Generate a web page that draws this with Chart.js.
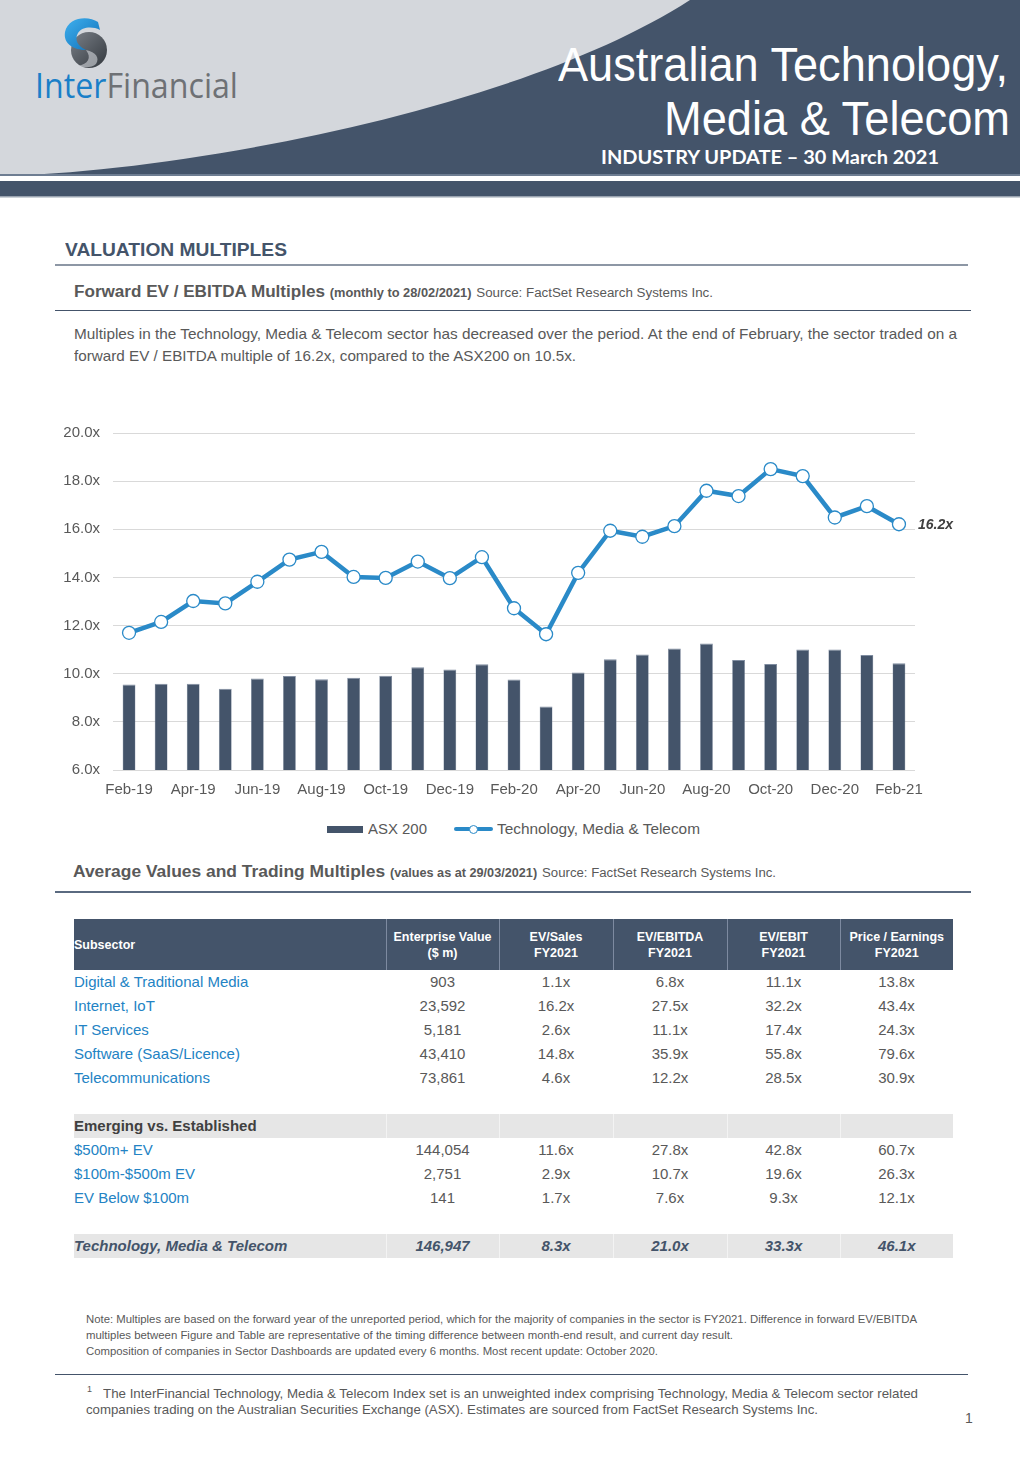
<!DOCTYPE html>
<html><head><meta charset="utf-8">
<script src="https://cdn.jsdelivr.net/npm/chart.js@4.4.1/dist/chart.umd.min.js"></script>
<style>
html,body{margin:0;padding:0}
body{width:1020px;height:1473px;position:relative;background:#fff;font-family:"Liberation Sans",Arial,sans-serif;overflow:hidden;color:#595959}
.a{position:absolute;white-space:nowrap;line-height:1}
.fit{transform-origin:0 50%;display:inline-block}
.hl{position:absolute;height:1px;background:#44546a}
table{position:absolute;left:74px;top:919px;width:879px;border-collapse:collapse;table-layout:fixed;font-size:15px}
td{padding:0;text-align:center;color:#595959;white-space:nowrap;height:24px;line-height:24px}
td.n{text-align:left;color:#2383c4}
tr.hd td{background:#44546a;color:#fff;font-weight:bold;font-size:12.5px;line-height:16px;height:51px;border-left:1px solid #7d8aa0}
tr.hd td:first-child{text-align:left;border-left:none}
tr.g td{background:#e6e6e6;border-left:1px solid #f3f3f3}
tr.g td:first-child{border-left:none}
tr.g td.s{text-align:left;font-weight:bold;color:#404040}
tr.t td{font-weight:bold;font-style:italic;color:#44546a}
</style></head>
<body>
<svg class="a" style="left:0;top:0" width="1020" height="200">
  <rect x="0" y="0" width="1020" height="176" fill="#d4d7dc"/>
  <path d="M0,176 C 180,172 520,110 690,0 L1020,0 L1020,176 Z" fill="#44546a"/>
  <rect x="0" y="174" width="1020" height="2" fill="#6e7d92"/>
  <rect x="0" y="181" width="1020" height="15" fill="#44546a"/>
  <rect x="0" y="196" width="1020" height="1.5" fill="#9aa3b0"/>
  <defs>
    <linearGradient id="gb" x1="0" y1="0" x2="1" y2="1"><stop offset="0" stop-color="#3fb0ee"/><stop offset="1" stop-color="#0f6fb8"/></linearGradient>
    <linearGradient id="gg" x1="0" y1="0" x2="1" y2="1"><stop offset="0" stop-color="#7a8088"/><stop offset="1" stop-color="#33383e"/></linearGradient>
  </defs>
  <circle cx="89" cy="50" r="18" fill="url(#gg)"/>
  <path d="M98,22 C88,15 68,17 65,32 C63,44 74,50 86,50 C78,46 74,40 78,33 C82,27 92,26 100,30 Z" fill="url(#gb)"/>
  <path d="M86,50 C96,52 100,58 96,64 C92,68 84,68 78,66 C88,64 92,58 86,50 Z" fill="#d4d7dc" opacity="0.6"/>
</svg>
<div class="a" style="left:35px;top:68px;font-family:'Open Sans';font-size:34px"><span class="fit" data-w="203"><span style="color:#1a7fc8">Inter</span><span style="color:#6e7175">Financial</span></span></div>

<div class="a" style="left:558px;top:41px;font-size:48px;color:#fff"><span class="fit" data-w="450">Australian Technology,</span></div>
<div class="a" style="left:664px;top:95px;font-size:48px;color:#fff"><span class="fit" data-w="346">Media &amp; Telecom</span></div>
<div class="a" style="left:601px;top:147px;font-size:19px;color:#fff;font-weight:bold;font-family:Lato"><span class="fit" data-w="338">INDUSTRY UPDATE – 30 March 2021</span></div>

<div class="a" style="left:65px;top:242px;font-size:17.5px;color:#44546a;font-weight:bold"><span class="fit" data-w="222">VALUATION MULTIPLES</span></div>
<div class="hl" style="left:55px;top:264px;width:913px;height:2px;background:#8d97a5"></div>

<div class="a" style="left:74px;top:284px;font-size:16px"><span class="fit" data-w="639"><b style="color:#595959">Forward EV / EBITDA Multiples</b> <b style="font-size:12px">(monthly to 28/02/2021)</b> <span style="font-size:12.5px">Source: FactSet Research Systems Inc.</span></span></div>
<div class="hl" style="left:55px;top:310px;width:916px"></div>

<div class="a" style="left:74px;top:327px;font-size:14.5px"><span class="fit" data-w="883">Multiples in the Technology, Media &amp; Telecom sector has decreased over the period. At the end of February, the sector traded on a</span></div>
<div class="a" style="left:74px;top:349px;font-size:14.5px"><span class="fit" data-w="502">forward EV / EBITDA multiple of 16.2x, compared to the ASX200 on 10.5x.</span></div>

<canvas id="c" width="905" height="389" style="position:absolute;left:55px;top:411px"></canvas>

<div class="a" style="left:327px;top:826px;width:36px;height:7px;background:#44546a"></div>
<div class="a" style="left:368px;top:822px;font-size:14.5px"><span class="fit" data-w="59">ASX 200</span></div>
<div class="a" style="left:454px;top:827px;width:39px;height:4px;background:#2a8ac8;border-radius:2px"></div>
<div class="a" style="left:469px;top:824.5px;width:7px;height:7px;background:#fff;border:1.5px solid #2a8ac8;border-radius:50%"></div>
<div class="a" style="left:497px;top:822px;font-size:14.5px"><span class="fit" data-w="203">Technology, Media &amp; Telecom</span></div>

<div class="a" style="left:73px;top:863px;font-size:16.5px"><span class="fit" data-w="703"><b>Average Values and Trading Multiples</b> <b style="font-size:12px">(values as at 29/03/2021)</b> <span style="font-size:12.5px">Source: FactSet Research Systems Inc.</span></span></div>
<div class="hl" style="left:55px;top:891px;width:916px;height:1.5px;background:#5a6a80"></div>

<table>
<colgroup><col style="width:312px"><col style="width:113px"><col style="width:114px"><col style="width:114px"><col style="width:113px"><col style="width:113px"></colgroup>
<tr class="hd"><td>Subsector</td><td>Enterprise Value<br>($ m)</td><td>EV/Sales<br>FY2021</td><td>EV/EBITDA<br>FY2021</td><td>EV/EBIT<br>FY2021</td><td>Price / Earnings<br>FY2021</td></tr>
<tr><td class="n">Digital &amp; Traditional Media</td><td>903</td><td>1.1x</td><td>6.8x</td><td>11.1x</td><td>13.8x</td></tr>
<tr><td class="n">Internet, IoT</td><td>23,592</td><td>16.2x</td><td>27.5x</td><td>32.2x</td><td>43.4x</td></tr>
<tr><td class="n">IT Services</td><td>5,181</td><td>2.6x</td><td>11.1x</td><td>17.4x</td><td>24.3x</td></tr>
<tr><td class="n">Software (SaaS/Licence)</td><td>43,410</td><td>14.8x</td><td>35.9x</td><td>55.8x</td><td>79.6x</td></tr>
<tr><td class="n">Telecommunications</td><td>73,861</td><td>4.6x</td><td>12.2x</td><td>28.5x</td><td>30.9x</td></tr>
<tr><td colspan="6"></td></tr>
<tr class="g"><td class="s">Emerging vs. Established</td><td></td><td></td><td></td><td></td><td></td></tr>
<tr><td class="n">$500m+ EV</td><td>144,054</td><td>11.6x</td><td>27.8x</td><td>42.8x</td><td>60.7x</td></tr>
<tr><td class="n">$100m-$500m EV</td><td>2,751</td><td>2.9x</td><td>10.7x</td><td>19.6x</td><td>26.3x</td></tr>
<tr><td class="n">EV Below $100m</td><td>141</td><td>1.7x</td><td>7.6x</td><td>9.3x</td><td>12.1x</td></tr>
<tr><td colspan="6"></td></tr>
<tr class="g t"><td style="text-align:left">Technology, Media &amp; Telecom</td><td>146,947</td><td>8.3x</td><td>21.0x</td><td>33.3x</td><td>46.1x</td></tr>
</table>

<div class="a" style="left:86px;top:1314px;font-size:11px"><span class="fit" data-w="831">Note: Multiples are based on the forward year of the unreported period, which for the majority of companies in the sector is FY2021. Difference in forward EV/EBITDA</span></div>
<div class="a" style="left:86px;top:1330px;font-size:11px"><span class="fit" data-w="647">multiples between Figure and Table are representative of the timing difference between month-end result, and current day result.</span></div>
<div class="a" style="left:86px;top:1346px;font-size:11px"><span class="fit" data-w="572">Composition of companies in Sector Dashboards are updated every 6 months. Most recent update: October 2020.</span></div>
<div class="hl" style="left:55px;top:1374px;width:913px"></div>
<div class="a" style="left:87px;top:1385px;font-size:9px">1</div>
<div class="a" style="left:103px;top:1387px;font-size:13px"><span class="fit" data-w="815">The InterFinancial Technology, Media &amp; Telecom Index set is an unweighted index comprising Technology, Media &amp; Telecom sector related</span></div>
<div class="a" style="left:86px;top:1403px;font-size:13px"><span class="fit" data-w="732">companies trading on the Australian Securities Exchange (ASX). Estimates are sourced from FactSet Research Systems Inc.</span></div>
<div class="a" style="left:965px;top:1411px;font-size:14px">1</div>

<script>
// ---- data ----
const months = ['Feb-19','Mar-19','Apr-19','May-19','Jun-19','Jul-19','Aug-19','Sep-19','Oct-19','Nov-19','Dec-19','Jan-20',
  'Feb-20','Mar-20','Apr-20','May-20','Jun-20','Jul-20','Aug-20','Sep-20','Oct-20','Nov-20','Dec-20','Jan-21','Feb-21'];
const asx200 = [9.55,9.58,9.58,9.38,9.80,9.91,9.77,9.83,9.92,10.27,10.18,10.39,
  9.76,8.64,10.05,10.60,10.80,11.05,11.26,10.57,10.40,11.01,11.01,10.78,10.43];
const tmt = [11.70,12.15,13.02,12.92,13.82,14.74,15.06,14.02,13.98,14.66,13.97,14.84,
  12.72,11.64,14.19,15.94,15.69,16.13,17.60,17.38,18.50,18.21,16.49,16.96,16.21];
const yMin = 6, yMax = 20, yStep = 2;

// fit text widths
document.querySelectorAll('.fit').forEach(el => {
  const w = el.getBoundingClientRect().width;
  const t = parseFloat(el.dataset.w);
  if (w > 0 && t) el.style.transform = 'scaleX(' + (t / w) + ')';
});

const tickFont = {family: "'Liberation Sans', Arial, sans-serif", size: 15};
const endLabel = {
  id: 'endLabel',
  afterDatasetsDraw(chart) {
    const meta = chart.getDatasetMeta(0);
    const pt = meta.data[meta.data.length - 1];
    const ctx = chart.ctx;
    ctx.save();
    ctx.font = "italic bold 14px 'Liberation Sans', Arial, sans-serif";
    ctx.fillStyle = '#404040';
    ctx.textAlign = 'left';
    ctx.textBaseline = 'middle';
    ctx.fillText(tmt[tmt.length - 1].toFixed(1) + 'x', pt.x + 19, pt.y + 1);
    ctx.restore();
  }
};

new Chart(document.getElementById('c'), {
  type: 'bar',
  data: {
    labels: months,
    datasets: [
      {type: 'line', label: 'Technology, Media & Telecom', data: tmt, order: 0,
       borderColor: '#2a8ac8', borderWidth: 4.5, tension: 0, clip: false,
       pointRadius: 6.5, pointBackgroundColor: '#ffffff', pointBorderColor: '#2a8ac8', pointBorderWidth: 1.3},
      {type: 'bar', label: 'ASX 200', data: asx200, order: 1,
       backgroundColor: '#44546a', borderColor: '#7f8ca0', borderWidth: {top: 1, left: 0.5, right: 0.5, bottom: 0},
       categoryPercentage: 1, barPercentage: 0.4}
    ]
  },
  options: {
    responsive: false, animation: false,
    layout: {padding: {top: 11, right: 45, left: 0, bottom: 0}},
    plugins: {legend: {display: false}, tooltip: {enabled: false}},
    scales: {
      x: {
        grid: {display: false}, border: {display: false},
        ticks: {font: tickFont, color: '#595959', padding: 3, autoSkip: false, maxRotation: 0,
                callback: (v, i) => (i % 2 === 0 ? months[i] : '')},
        afterFit: s => { s.height = 30; }
      },
      y: {
        min: yMin, max: yMax,
        grid: {color: '#d9d9d9', lineWidth: 1, drawTicks: false},
        border: {display: false},
        ticks: {stepSize: yStep, font: tickFont, color: '#595959', padding: 13,
                callback: v => Number(v).toFixed(1) + 'x'},
        afterFit: s => { s.width = 58; }
      }
    }
  },
  plugins: [endLabel]
});
</script>
</body></html>
